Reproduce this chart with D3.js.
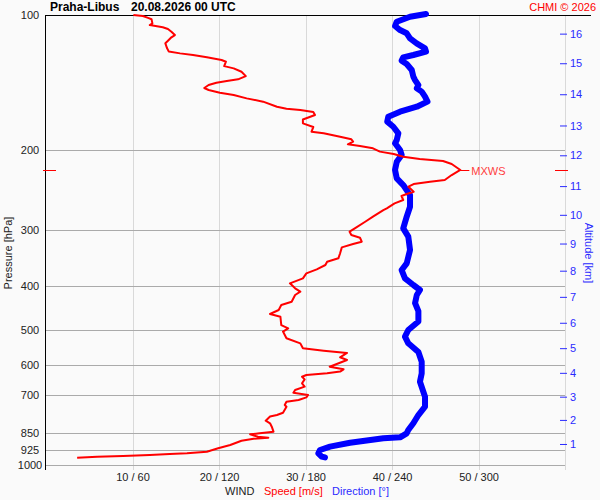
<!DOCTYPE html>
<html>
<head>
<meta charset="utf-8">
<title>Praha-Libus wind profile</title>
<script src="https://cdn.jsdelivr.net/npm/d3@7"></script>
<style>
    body { margin: 0; background: #fafafa; }
    svg { display: block; font-family: "Liberation Sans", Arial, sans-serif; }
</style>
</head>
<body>
<div id="chart"></div>
<script>
// Wind profile - sounding Praha-Libus, 20.08.2026 00 UTC

const pressureTicks = [100, 200, 300, 400, 500, 600, 700, 850, 925, 1000];
const gridPressures = [200, 300, 400, 500, 600, 700, 850, 925, 1000];
const speedTicks = [10, 20, 30, 40, 50];

// altitude (km) of the sounding and the pressure level where it is reached
const altitudeKm = [1, 2, 3, 4, 5, 6, 7, 8, 9, 10, 11, 12, 13, 14, 15, 16];
const altitudePressure = [898, 794, 705, 624, 550, 483, 423, 370, 322, 278, 240, 205, 176, 150, 128, 110];

// wind speed [m/s] by pressure [hPa]
const speedPressure = [
    100, 100.5, 101.5, 102.2, 104.4, 105.3, 106.5, 107.4, 108.9, 110.8,
    112.1, 114.1, 115.6, 118.6, 120.6, 121.7, 122.7, 124.2, 125.9, 127.0,
    129.9, 131.4, 133.7, 136.7, 139.0, 140.2, 141.4, 143.1, 145.3, 146.8,
    148.8, 150.6, 153.2, 155.8, 159.9, 161.5, 162.6, 164.3, 166.8, 170.7,
    174.1, 177.4, 181.7, 183.2, 186.4, 188.9, 191.2, 193.8, 195.5, 197.8,
    201.2, 203.6, 206.5, 208.9, 211.1, 214.3, 221.0, 226.8, 232.6, 234.7,
    237.5, 240.7, 247.0, 249.9, 252.5, 257.7, 262.1, 268.9, 271.3, 280.7,
    288.0, 298.0, 303.1, 308.3, 312.6, 319.0, 322.8, 328.4, 338.5, 347.3,
    353.4, 359.4, 367.4, 375.1, 384.8, 394.7, 404.9, 412.0, 419.0, 433.6,
    441.0, 452.4, 461.8, 468.3, 488.6, 496.9, 505.2, 522.9, 536.6, 550.4,
    557.2, 563.6, 576.3, 584.3, 604.8, 612.8, 620.0, 625.6, 631.0, 636.5,
    645.1, 658.4, 669.8, 681.3, 690.8, 699.0, 707.4, 717.1, 723.4, 735.6,
    742.0, 765.2, 774.3, 780.3, 797.2, 807.9, 822.0, 843.3, 850.3, 854.8,
    865.1, 869.6, 874.1, 883.1, 902.7, 918.2, 934.4, 942.0, 945.3, 950.1,
    955.0, 958.3, 963.5
];
const speedValues = [
    10.1, 11.2, 11.8, 12.2, 12.3, 12.0, 13.5, 14.1, 14.5, 14.9,
    14.5, 14.1, 13.8, 14.0, 14.2, 15.5, 17.0, 18.6, 20.3, 20.8,
    20.6, 21.7, 22.6, 23.1, 22.2, 20.9, 19.7, 18.8, 18.3, 18.8,
    20.1, 21.7, 23.2, 25.1, 26.7, 27.8, 29.4, 30.9, 31.1, 29.7,
    29.7, 30.9, 30.7, 32.1, 34.0, 35.3, 35.5, 34.9, 36.3, 37.8,
    38.6, 40.2, 41.3, 43.2, 45.9, 46.9, 47.9, 46.9, 46.1, 44.4,
    42.5, 41.9, 42.5, 41.7, 41.1, 41.3, 40.3, 39.4, 39.0, 37.8,
    36.9, 35.7, 35.1, 35.3, 36.3, 36.5, 35.5, 34.2, 34.0, 33.8,
    32.5, 32.3, 31.3, 30.1, 29.7, 28.2, 28.8, 29.4, 28.8, 28.4,
    27.2, 26.9, 25.9, 27.1, 27.2, 28.0, 27.4, 27.8, 29.4, 29.7,
    32.1, 34.8, 34.0, 34.8, 32.8, 34.4, 34.0, 32.5, 30.1, 29.6,
    29.9, 29.6, 29.9, 28.8, 28.6, 30.3, 30.1, 29.2, 27.8, 27.6,
    27.8, 27.4, 26.7, 25.9, 25.4, 25.9, 26.1, 26.3, 24.7, 23.6,
    24.5, 25.7, 24.0, 22.6, 21.3, 19.9, 18.6, 16.3, 14.3, 12.0,
    8.9, 5.9, 3.6
];

// wind direction [deg] by pressure [hPa]
const dirPressure = [
    99.5, 100.9, 103.5, 105.8, 108.0, 109.8, 112.7, 115.6, 118.6, 120.6,
    122.7, 124.2, 126.3, 128.5, 132.5, 137.1, 139.5, 143.1, 145.5, 148.0,
    151.9, 155.8, 159.9, 164.0, 168.3, 172.6, 177.1, 183.2, 189.6, 192.8,
    199.5, 204.7, 211.9, 221.0, 230.7, 238.7, 251.2, 266.7, 280.7, 298.0,
    310.9, 332.8, 356.4, 368.8, 384.8, 398.1, 408.4, 419.0, 437.0, 455.2,
    480.0, 501.2, 518.5, 536.6, 560.9, 589.3, 625.6, 652.9, 705.1, 742.0,
    774.3, 807.9, 836.0, 850.3, 867.9, 872.4, 892.1, 910.5, 926.1, 942.0,
    958.0, 962.0
];
const dirValues = [
    263.6, 252.5, 243.3, 242.1, 245.6, 250.2, 252.5, 257.1, 262.9, 263.6,
    254.8, 247.8, 246.7, 250.2, 253.7, 254.8, 256.0, 258.3, 257.2, 260.6,
    262.9, 264.6, 257.2, 245.6, 237.4, 236.7, 240.9, 244.4, 243.3, 242.1,
    245.6, 246.7, 243.3, 242.1, 243.3, 247.8, 252.5, 252.5, 250.2, 247.8,
    251.3, 252.5, 250.2, 246.7, 249.0, 254.8, 259.4, 257.2, 256.0, 258.3,
    258.3, 251.3, 249.0, 251.3, 258.3, 260.6, 260.6, 259.4, 262.9, 262.9,
    258.3, 254.8, 251.3, 250.2, 245.6, 234.0, 210.9, 197.0, 190.1, 188.9,
    191.2, 193.5
];

// maximum wind
const mxwsPressure = 221;
const mxwsSpeed = 47.9;

const width = 600;
const height = 500;
const red = "#ff0000";
const blue = "#0000ff";
const axisBlue = "#2a2aff";

function drawChart() {
    const svg = d3.select("#chart")
        .append("svg")
        .attr("width", width)
        .attr("height", height);

    svg.append("rect")
        .attr("width", width)
        .attr("height", height)
        .attr("fill", "#fafafa");

    // speed m/s on the x axis, direction shares it at 6 deg per m/s
    const x = d3.scaleLinear().domain([0, 60]).range([46, 565]);
    const y = d3.scaleLog().domain([100, 1000]).range([15, 465]);

    // vertical grid
    svg.append("g")
        .selectAll("line")
        .data(speedTicks)
        .join("line")
        .attr("x1", d => Math.round(x(d)) + 0.5)
        .attr("x2", d => Math.round(x(d)) + 0.5)
        .attr("y1", y(100))
        .attr("y2", y(1000) + 5)
        .attr("stroke", "#d9d9d9");

    // horizontal grid
    svg.append("g")
        .selectAll("line")
        .data(gridPressures)
        .join("line")
        .attr("x1", 45)
        .attr("x2", 565)
        .attr("y1", d => Math.round(y(d)) + 0.5)
        .attr("y2", d => Math.round(y(d)) + 0.5)
        .attr("stroke", "#aaaaaa");

    // right frame (light) and top frame (black)
    svg.append("line")
        .attr("x1", 565.5).attr("x2", 565.5)
        .attr("y1", y(100)).attr("y2", y(1000) + 5)
        .attr("stroke", "#d9d9d9");
    svg.append("line")
        .attr("x1", 45).attr("x2", 591)
        .attr("y1", y(100) + 0.5).attr("y2", y(100) + 0.5)
        .attr("stroke", "#000");
    svg.append("line")
        .attr("x1", 45.5).attr("x2", 45.5)
        .attr("y1", y(100)).attr("y2", y(1000) + 5)
        .attr("stroke", "#000");

    // pressure axis
    const yAxis = svg.append("g")
        .attr("transform", "translate(30,0)")
        .call(d3.axisLeft(y).tickValues(pressureTicks).tickSize(0).tickPadding(0).tickFormat(d3.format("d")));
    yAxis.select(".domain").remove();
    yAxis.selectAll("text")
        .attr("text-anchor", "middle")
        .style("font-size", "11px")
        .attr("fill", "#222");

    // speed / direction axis labels
    const xAxis = svg.append("g")
        .attr("transform", `translate(0,${y(1000)})`)
        .call(d3.axisBottom(x).tickValues(speedTicks).tickSize(0).tickPadding(8)
            .tickFormat(d => `${d} / ${d * 6}`));
    xAxis.select(".domain").remove();
    xAxis.selectAll("text")
        .style("font-size", "11px")
        .attr("fill", "#222");

    // altitude axis
    const altAxis = svg.append("g")
        .attr("transform", "translate(560,0)")
        .call(d3.axisRight(y).tickValues(altitudePressure).tickSize(7).tickPadding(3)
            .tickFormat((d, i) => altitudeKm[i]));
    altAxis.select(".domain").remove();
    altAxis.selectAll("line").attr("stroke", axisBlue);
    altAxis.selectAll("text")
        .style("font-size", "11px")
        .attr("fill", axisBlue);

    // direction profile
    const dirProfile = d3.zip(dirPressure, dirValues);
    const dirLine = d3.line()
        .x(d => x(d[1] / 6))
        .y(d => y(d[0]));
    svg.append("path")
        .datum(dirProfile)
        .attr("d", dirLine)
        .attr("fill", "none")
        .attr("stroke", blue)
        .attr("stroke-width", 6)
        .attr("stroke-linejoin", "round")
        .attr("stroke-linecap", "round");

    // speed profile
    const speedProfile = d3.zip(speedPressure, speedValues);
    const speedLine = d3.line()
        .x(d => x(d[1]))
        .y(d => y(d[0]));
    svg.append("path")
        .datum(speedProfile)
        .attr("d", speedLine)
        .attr("fill", "none")
        .attr("stroke", red)
        .attr("stroke-width", 2)
        .attr("stroke-linejoin", "round");

    // max wind marker
    const my = Math.round(y(mxwsPressure)) + 0.5;
    svg.append("line")
        .attr("x1", x(mxwsSpeed)).attr("x2", x(mxwsSpeed) + 9)
        .attr("y1", my).attr("y2", my)
        .attr("stroke", red);
    svg.append("text")
        .attr("x", x(mxwsSpeed) + 11)
        .attr("y", my + 4)
        .style("font-size", "11px")
        .attr("fill", "#ff4040")
        .text("MXWS");
    svg.append("line")
        .attr("x1", 43).attr("x2", 56)
        .attr("y1", my).attr("y2", my)
        .attr("stroke", red);
    svg.append("line")
        .attr("x1", 555).attr("x2", 568)
        .attr("y1", my).attr("y2", my)
        .attr("stroke", red);

    // titles
    svg.append("text")
        .attr("x", 50).attr("y", 11)
        .style("font-size", "12px").style("font-weight", "bold")
        .text("Praha-Libus");
    svg.append("text")
        .attr("x", 131).attr("y", 11)
        .style("font-size", "12px").style("font-weight", "bold")
        .text("20.08.2026 00 UTC");
    svg.append("text")
        .attr("x", 596).attr("y", 11)
        .attr("text-anchor", "end")
        .style("font-size", "11px")
        .attr("fill", red)
        .text("CHMI © 2026");

    svg.append("text")
        .attr("transform", "translate(12,253) rotate(-90)")
        .attr("text-anchor", "middle")
        .style("font-size", "11px")
        .attr("fill", "#222")
        .text("Pressure [hPa]");
    svg.append("text")
        .attr("transform", "translate(585,253) rotate(90)")
        .attr("text-anchor", "middle")
        .style("font-size", "11px")
        .attr("fill", axisBlue)
        .text("Altitude [km]");

    svg.append("text")
        .attr("x", 225).attr("y", 495)
        .style("font-size", "11px")
        .attr("fill", "#222")
        .text("WIND");
    svg.append("text")
        .attr("x", 264).attr("y", 495)
        .style("font-size", "11px")
        .attr("fill", red)
        .text("Speed [m/s]");
    svg.append("text")
        .attr("x", 332).attr("y", 495)
        .style("font-size", "11px")
        .attr("fill", axisBlue)
        .text("Direction [°]");
}

document.addEventListener("DOMContentLoaded", drawChart);
</script>
</body>
</html>
